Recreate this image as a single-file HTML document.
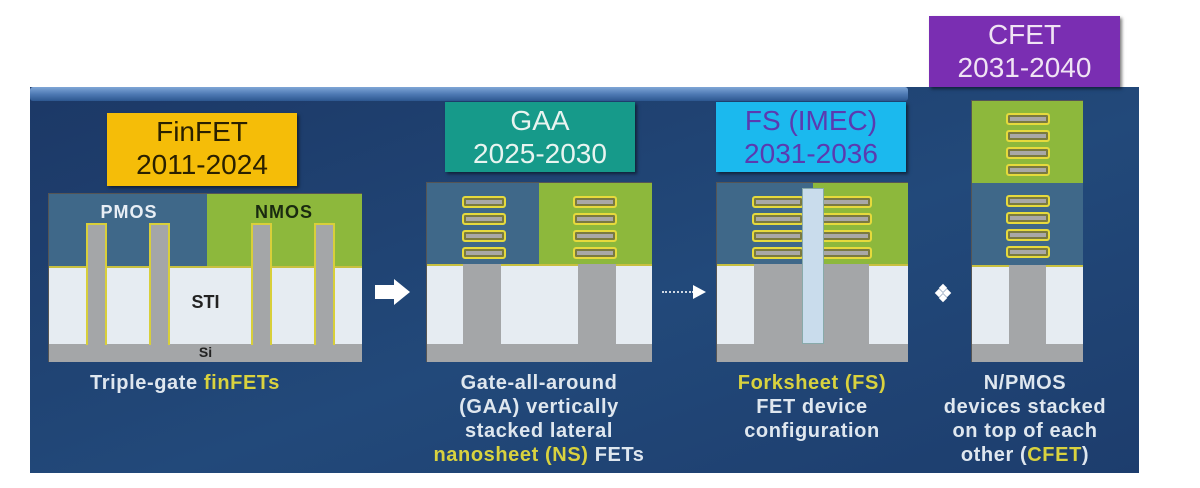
<!DOCTYPE html>
<html><head><meta charset="utf-8"><style>
body{margin:0;width:1200px;height:488px;background:#fff;position:relative;overflow:hidden;font-family:"Liberation Sans",sans-serif}
div{position:absolute;box-sizing:border-box}
.panel{left:30px;top:87px;width:1109px;height:386px;background:linear-gradient(160deg,#1c3866 0%,#22497a 55%,#1d3d6d 100%)}
.strip{left:30px;top:87px;width:878px;height:14px;background:linear-gradient(#7fa6d6,#4f7bb5 50%,#2d5790);border-radius:3px}
.lab{text-align:center;font-size:28px;line-height:33px;padding-top:2px;box-shadow:2px 2px 3px rgba(0,0,0,.5)}
.b{background:#3f6889}.g{background:#8db83c}.w{background:#e6ecf2}.s{background:#a4a6a8}
.sh{width:44px;height:12px;border:2px solid #e6da3c;border-radius:3px;background:#a9a8a6;box-shadow:inset 0 0 0 2px #7a7a40}
.cap{color:#dfe7ef;font-weight:bold;font-size:20px;line-height:24px;text-align:center;white-space:nowrap;letter-spacing:0.6px}
.y{color:#d9d23e}
.dot{width:6px;height:6px;background:#fff;transform:rotate(45deg)}
</style></head><body>
<div class="panel"></div>
<div class="strip"></div>

<!-- FinFET -->
<div class="lab" style="left:107px;top:113px;width:190px;height:73px;background:#f5bd08;color:#2a2000">FinFET<br>2011-2024</div>
<div style="left:48px;top:193px;width:314px;height:169px;border:1px solid #555">
<div class="b" style="left:0;top:0;width:158px;height:72px"></div>
<div class="g" style="left:158px;top:0;width:155px;height:72px"></div>
<div class="w" style="left:0;top:72px;width:313px;height:78px;border-top:2px solid #c8c040"></div>
<div class="s" style="left:0;top:150px;width:313px;height:18px"></div>
<div style="left:5px;top:8px;width:150px;text-align:center;color:#e8eef5;font-weight:bold;font-size:18px;letter-spacing:1px">PMOS</div>
<div style="left:160px;top:8px;width:150px;text-align:center;color:#1a2a10;font-weight:bold;font-size:18px;letter-spacing:1px">NMOS</div>
<div style="left:0;top:98px;width:313px;text-align:center;color:#222;font-weight:bold;font-size:18px">STI</div>
<div style="left:0;top:150px;width:313px;text-align:center;color:#222;font-weight:bold;font-size:14px">Si</div>
<div class="s" style="left:37px;top:29px;width:21px;height:122px;border:2px solid #d8cf3a;border-bottom:none"></div>
<div class="s" style="left:100px;top:29px;width:21px;height:122px;border:2px solid #d8cf3a;border-bottom:none"></div>
<div class="s" style="left:202px;top:29px;width:21px;height:122px;border:2px solid #d8cf3a;border-bottom:none"></div>
<div class="s" style="left:265px;top:29px;width:21px;height:122px;border:2px solid #d8cf3a;border-bottom:none"></div>
</div>
<div style="left:375px;top:285px;width:20px;height:14px;background:#fff"></div>
<div style="left:394px;top:279px;width:0;height:0;border-left:16px solid #fff;border-top:13px solid transparent;border-bottom:13px solid transparent"></div>

<!-- GAA -->
<div class="lab" style="left:445px;top:102px;width:190px;height:70px;background:#169a8a;color:#e8f4f0">GAA<br>2025-2030</div>
<div style="left:426px;top:182px;width:226px;height:180px;border:1px solid #555">
<div class="b" style="left:0;top:0;width:112px;height:81px"></div>
<div class="g" style="left:112px;top:0;width:113px;height:81px"></div>
<div class="w" style="left:0;top:81px;width:225px;height:80px;border-top:2px solid #c8c040"></div>
<div class="s" style="left:0;top:161px;width:225px;height:18px"></div>
<div class="s" style="left:36px;top:81px;width:38px;height:82px"></div>
<div class="s" style="left:151px;top:81px;width:38px;height:82px"></div>
<div class="sh" style="left:35px;top:13px"></div><div class="sh" style="left:35px;top:30px"></div><div class="sh" style="left:35px;top:47px"></div><div class="sh" style="left:35px;top:64px"></div>
<div class="sh" style="left:146px;top:13px"></div><div class="sh" style="left:146px;top:30px"></div><div class="sh" style="left:146px;top:47px"></div><div class="sh" style="left:146px;top:64px"></div>
</div>
<div style="left:662px;top:291px;width:32px;border-top:2px dotted #cfd8e4"></div>
<div style="left:693px;top:285px;width:0;height:0;border-left:13px solid #fff;border-top:7px solid transparent;border-bottom:7px solid transparent"></div>

<!-- FS -->
<div class="lab" style="left:716px;top:102px;width:190px;height:70px;background:#1bb9ee;color:#5b3ab0">FS (IMEC)<br>2031-2036</div>
<div style="left:716px;top:182px;width:192px;height:180px;border:1px solid #555">
<div class="b" style="left:0;top:0;width:96px;height:81px"></div>
<div class="g" style="left:96px;top:0;width:95px;height:81px"></div>
<div class="w" style="left:0;top:81px;width:191px;height:80px;border-top:2px solid #c8c040"></div>
<div class="s" style="left:0;top:161px;width:191px;height:18px"></div>
<div class="s" style="left:37px;top:81px;width:115px;height:82px"></div>
<div class="sh" style="left:35px;top:13px;width:52px"></div><div class="sh" style="left:35px;top:30px;width:52px"></div><div class="sh" style="left:35px;top:47px;width:52px"></div><div class="sh" style="left:35px;top:64px;width:52px"></div>
<div class="sh" style="left:103px;top:13px;width:52px"></div><div class="sh" style="left:103px;top:30px;width:52px"></div><div class="sh" style="left:103px;top:47px;width:52px"></div><div class="sh" style="left:103px;top:64px;width:52px"></div>
<div style="left:85px;top:5px;width:22px;height:156px;background:#c9dcec;border:1px solid #8aa"></div>
</div>
<div class="dot" style="left:936px;top:290px"></div>
<div class="dot" style="left:944px;top:290px"></div>
<div class="dot" style="left:940px;top:285px"></div>
<div class="dot" style="left:940px;top:295px"></div>

<!-- CFET -->
<div class="lab" style="left:929px;top:16px;width:191px;height:71px;background:#7a2eb2;color:#f0e4f4">CFET<br>2031-2040</div>
<div style="left:971px;top:100px;width:112px;height:262px;border:1px solid #555">
<div class="g" style="left:0;top:0;width:111px;height:82px"></div>
<div class="b" style="left:0;top:82px;width:111px;height:82px"></div>
<div class="w" style="left:0;top:164px;width:111px;height:79px;border-top:2px solid #c8c040"></div>
<div class="s" style="left:0;top:243px;width:111px;height:18px"></div>
<div class="s" style="left:37px;top:164px;width:37px;height:81px"></div>
<div class="sh" style="left:34px;top:12px"></div><div class="sh" style="left:34px;top:29px"></div><div class="sh" style="left:34px;top:46px"></div><div class="sh" style="left:34px;top:63px"></div>
<div class="sh" style="left:34px;top:94px"></div><div class="sh" style="left:34px;top:111px"></div><div class="sh" style="left:34px;top:128px"></div><div class="sh" style="left:34px;top:145px"></div>
</div>

<!-- captions -->
<div class="cap" style="left:65px;top:371px;width:240px">Triple-gate <span class="y">finFETs</span></div>
<div class="cap" style="left:389px;top:371px;width:300px">Gate-all-around<br>(GAA) vertically<br>stacked lateral<br><span class="y">nanosheet (NS)</span> FETs</div>
<div class="cap" style="left:712px;top:371px;width:200px"><span class="y">Forksheet (FS)</span><br>FET device<br>configuration</div>
<div class="cap" style="left:925px;top:371px;width:200px">N/PMOS<br>devices stacked<br>on top of each<br>other (<span class="y">CFET</span>)</div>
</body></html>
